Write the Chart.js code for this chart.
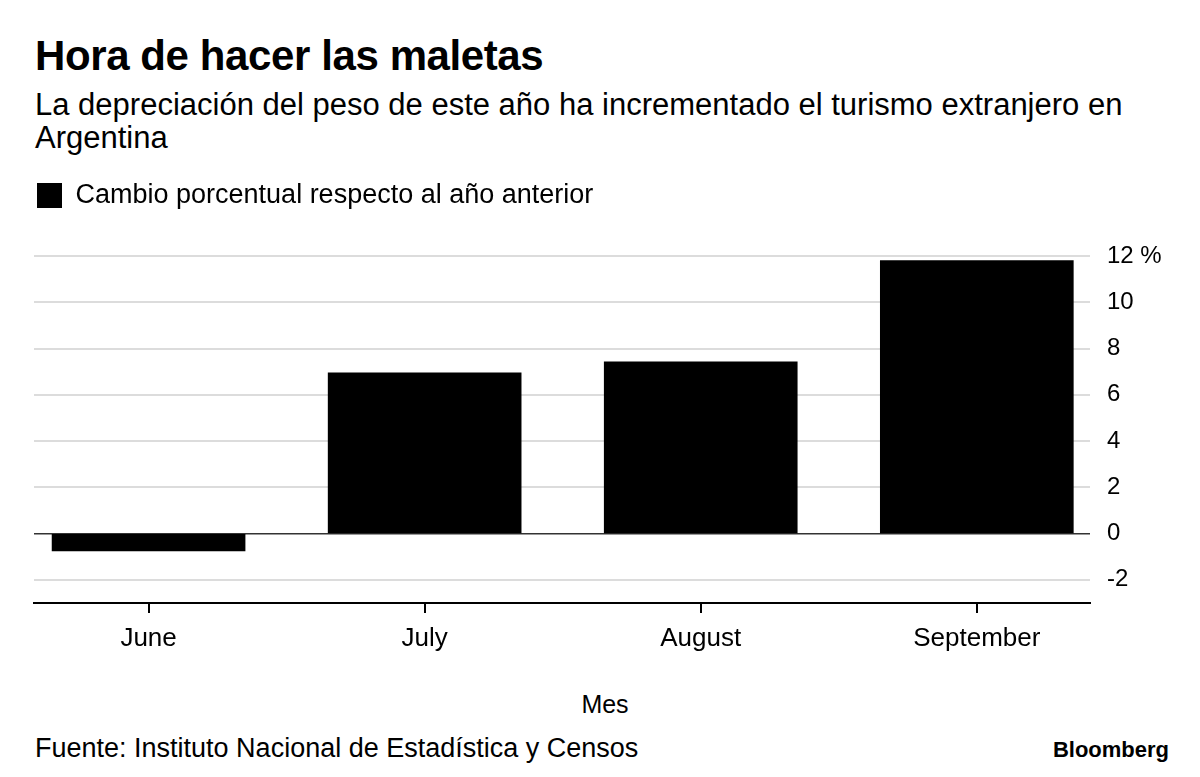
<!DOCTYPE html>
<html>
<head>
<meta charset="utf-8">
<script src="https://cdn.jsdelivr.net/npm/chart.js@4/dist/chart.umd.min.js"></script>
<style>
    body { margin: 0; background: #fff; font-family: "Liberation Sans", Arial, sans-serif; color: #000; }
    #wrap { position: relative; width: 1200px; height: 777px; overflow: hidden; }
    .txt { position: absolute; white-space: nowrap; line-height: 1; }
    #title { left: 35px; top: 35px; font-size: 42px; font-weight: bold; letter-spacing: -0.4px; }
    #subtitle { left: 35px; top: 88px; font-size: 31px; line-height: 33px; }
    #xtitle { left: 0; width: 1210px; text-align: center; top: 692px; font-size: 25px; }
    #source { left: 35px; top: 735px; font-size: 27px; }
    #brand { right: 31px; top: 739px; font-size: 22px; font-weight: bold; }
    #chartBox { position: absolute; left: 0; top: 179px; width: 1200px; height: 501px; }
</style>
</head>
<body>
<div id="wrap">
    <div class="txt" id="title">Hora de hacer las maletas</div>
    <div class="txt" id="subtitle">La depreciación del peso de este año ha incrementado el turismo extranjero en<br>Argentina</div>
    <div id="chartBox"><canvas id="chart"></canvas></div>
    <div class="txt" id="xtitle">Mes</div>
    <div class="txt" id="source">Fuente: Instituto Nacional de Estadística y Censos</div>
    <div class="txt" id="brand">Bloomberg</div>
</div>
<script>
// data
const months = ['June', 'July', 'August', 'September'];
const pctChange = [-0.75, 6.95, 7.42, 11.8];
const yTicks = [-2, 0, 2, 4, 6, 8, 10, 12];
const seriesLabel = 'Cambio porcentual respecto al año anterior';

const FONT = '"Liberation Sans", Arial, sans-serif';

// give the legend a fixed height so the plot top lands on the 12% line
const legendHeight = {
    id: 'legendHeight',
    beforeInit(chart) {
        const fit = chart.legend.fit;
        chart.legend.fit = function () {
            fit.bind(chart.legend)();
            this.height = 77;
        };
    }
};

new Chart(document.getElementById('chart'), {
    type: 'bar',
    data: {
        datasets: [{
            label: seriesLabel,
            data: months.map((m, i) => ({ x: i, y: pctChange[i] })),
            backgroundColor: '#000',
            borderWidth: 0,
            barThickness: 193
        }]
    },
    options: {
        responsive: true, maintainAspectRatio: false, animation: false,
        layout: { padding: { left: 34, right: 0, top: 0, bottom: 0 } },
        plugins: {
            legend: {
                position: 'top', align: 'start',
                labels: { boxWidth: 25, boxHeight: 25, padding: 3, color: '#000', font: { family: FONT, size: 27 } }
            },
            tooltip: { enabled: false }
        },
        scales: {
            x: {
                type: 'linear', min: -0.415, max: 3.41, offset: false,
                afterBuildTicks: s => { s.ticks = months.map((m, i) => ({ value: i })); },
                afterFit: s => { s.height = 77; },
                grid: { offset: false, drawOnChartArea: false, drawTicks: true, tickLength: 10, color: '#000', lineWidth: 2 },
                border: { display: true, color: '#000', width: 2 },
                ticks: { color: '#000', padding: 10, maxRotation: 0, font: { family: FONT, size: 26 }, callback: v => months[v] }
            },
            y: {
                position: 'right', min: -3, max: 12,
                afterBuildTicks: s => { s.ticks = yTicks.map(v => ({ value: v })); },
                afterFit: s => { s.width = 110; },
                grid: {
                    drawTicks: false,
                    color: c => c.tick && c.tick.value === 0 ? '#333' : '#dcdcdc',
                    lineWidth: c => c.tick && c.tick.value === 0 ? 1.5 : 2
                },
                border: { display: false },
                ticks: {
                    color: '#000', padding: 17, crossAlign: 'near', font: { family: FONT, size: 24 },
                    callback: v => v === 12 ? v + ' %' : v
                }
            }
        }
    },
    plugins: [legendHeight]
});
</script>
</body>
</html>
